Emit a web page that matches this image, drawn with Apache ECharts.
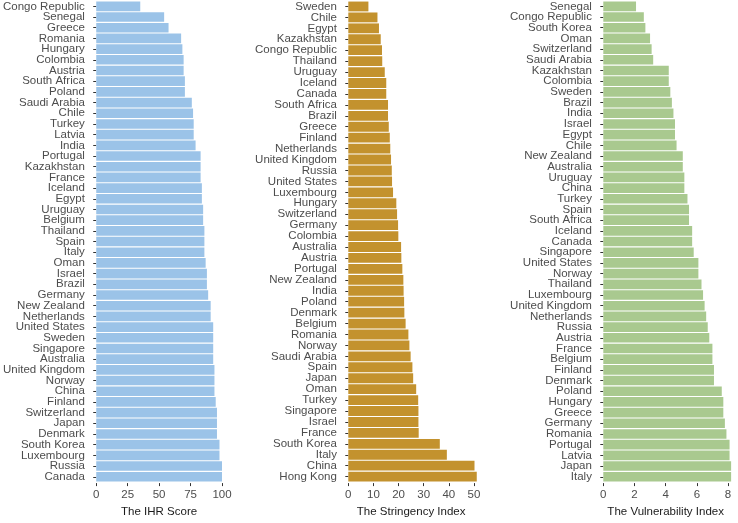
<!DOCTYPE html>
<html>
<head>
<meta charset="utf-8">
<script src="https://cdn.jsdelivr.net/npm/echarts@6/dist/echarts.min.js"></script>
<style>
  html, body { margin: 0; padding: 0; background: #fff; }
  #main { width: 738px; height: 523px; }
</style>
</head>
<body>
<div id="main"></div>
<script>
// IHR score
var ihrCountries = ['Congo Republic', 'Senegal', 'Greece', 'Romania', 'Hungary', 'Colombia', 'Austria', 'South Africa', 'Poland', 'Saudi Arabia',
  'Chile', 'Turkey', 'Latvia', 'India', 'Portugal', 'Kazakhstan', 'France', 'Iceland', 'Egypt', 'Uruguay',
  'Belgium', 'Thailand', 'Spain', 'Italy', 'Oman', 'Israel', 'Brazil', 'Germany', 'New Zealand', 'Netherlands',
  'United States', 'Sweden', 'Singapore', 'Australia', 'United Kingdom', 'Norway', 'China', 'Finland', 'Switzerland', 'Japan',
  'Denmark', 'South Korea', 'Luxembourg', 'Russia', 'Canada']
var ihrValues = [35, 54, 57.5, 67.5, 68.5, 69.5, 69.5, 70.5, 70.5, 76,
  77, 77.5, 77.5, 79, 83, 83, 83, 84, 84, 85,
  85, 86, 86, 86, 87, 88, 88, 89, 91, 91,
  93, 93, 93, 93, 94, 94, 94, 95, 96, 96,
  96, 98, 98, 100, 100]

// stringency index
var strCountries = ['Sweden', 'Chile', 'Egypt', 'Kazakhstan', 'Congo Republic', 'Thailand', 'Uruguay', 'Iceland', 'Canada', 'South Africa',
  'Brazil', 'Greece', 'Finland', 'Netherlands', 'United Kingdom', 'Russia', 'United States', 'Luxembourg', 'Hungary', 'Switzerland',
  'Germany', 'Colombia', 'Australia', 'Austria', 'Portugal', 'New Zealand', 'India', 'Poland', 'Denmark', 'Belgium',
  'Romania', 'Norway', 'Saudi Arabia', 'Spain', 'Japan', 'Oman', 'Turkey', 'Singapore', 'Israel', 'France',
  'South Korea', 'Italy', 'China', 'Hong Kong']
var strValues = [8.0, 11.6, 12.2, 12.9, 13.4, 13.5, 14.5, 15.1, 15.1, 15.8,
  15.8, 16.1, 16.5, 16.7, 17.0, 17.3, 17.4, 17.8, 19.1, 19.4,
  19.8, 19.9, 21.0, 21.1, 21.5, 21.9, 22.0, 22.2, 22.3, 22.8,
  23.9, 24.3, 24.8, 25.5, 25.8, 27.0, 27.8, 27.9, 27.9, 28.0,
  36.4, 39.2, 50.2, 51.1]

// vulnerability index
var vulCountries = ['Senegal', 'Congo Republic', 'South Korea', 'Oman', 'Switzerland', 'Saudi Arabia', 'Kazakhstan', 'Colombia', 'Sweden', 'Brazil',
  'India', 'Israel', 'Egypt', 'Chile', 'New Zealand', 'Australia', 'Uruguay', 'China', 'Turkey', 'Spain',
  'South Africa', 'Iceland', 'Canada', 'Singapore', 'United States', 'Norway', 'Thailand', 'Luxembourg', 'United Kingdom', 'Netherlands',
  'Russia', 'Austria', 'France', 'Belgium', 'Finland', 'Denmark', 'Poland', 'Hungary', 'Greece', 'Germany',
  'Romania', 'Portugal', 'Latvia', 'Japan', 'Italy']
var vulValues = [2.1, 2.6, 2.7, 3.0, 3.1, 3.2, 4.2, 4.2, 4.3, 4.4,
  4.5, 4.6, 4.6, 4.7, 5.1, 5.1, 5.2, 5.2, 5.4, 5.5,
  5.5, 5.7, 5.7, 5.8, 6.1, 6.1, 6.3, 6.4, 6.5, 6.6,
  6.7, 6.8, 7.0, 7.0, 7.1, 7.1, 7.6, 7.7, 7.7, 7.8,
  7.9, 8.1, 8.1, 8.2, 8.2]

var axisTitles = ['The IHR Score', 'The Stringency Index', 'The Vulnerability Index']
var colors = ['#9bc3e8', '#c3922e', '#a9c98f']

var FONT = 'Liberation Sans'
var labelColor = '#4d4d4d'

function makeY (idx, data) {
  return {
    type: 'category',
    gridIndex: idx,
    data: data,
    inverse: true,
    offset: 6.4,
    axisLine: { show: false },
    axisTick: { show: true, interval: 0, alignWithLabel: true, length: 3, lineStyle: { color: '#333' } },
    axisLabel: { interval: 0, margin: 5, fontFamily: FONT, fontSize: 11.5, color: labelColor }
  }
}

function makeX (idx, max, interval) {
  return {
    type: 'value',
    gridIndex: idx,
    min: 0,
    max: max,
    interval: interval,
    offset: 1,
    splitLine: { show: false },
    axisLine: { show: false },
    axisTick: { show: true, length: 3, lineStyle: { color: '#333' } },
    axisLabel: { margin: 6, fontFamily: FONT, fontSize: 11.5, color: labelColor },
    name: axisTitles[idx],
    nameLocation: 'middle',
    nameGap: 15,
    nameTextStyle: { fontFamily: FONT, fontSize: 11.5, color: '#1a1a1a' }
  }
}

function makeSeries (idx, data) {
  return {
    type: 'bar',
    xAxisIndex: idx,
    yAxisIndex: idx,
    data: data,
    barCategoryGap: '10%',
    clip: false,
    silent: true,
    itemStyle: { color: colors[idx] }
  }
}

var option = {
  animation: false,
  grid: [
    { left: 94, width: 128, top: 1, height: 489.5 },
    { left: 348.3, width: 125.7, top: 1, height: 489.5 },
    { left: 603.3, width: 124.7, top: 1, height: 489.5 }
  ],
  xAxis: [makeX(0, 100, 25), makeX(1, 50, 10), makeX(2, 8, 2)],
  yAxis: [makeY(0, ihrCountries), makeY(1, strCountries), makeY(2, vulCountries)],
  series: [makeSeries(0, ihrValues), makeSeries(1, strValues), makeSeries(2, vulValues)]
}

var chart = echarts.init(document.getElementById('main'))
chart.setOption(option)
</script>
</body>
</html>
